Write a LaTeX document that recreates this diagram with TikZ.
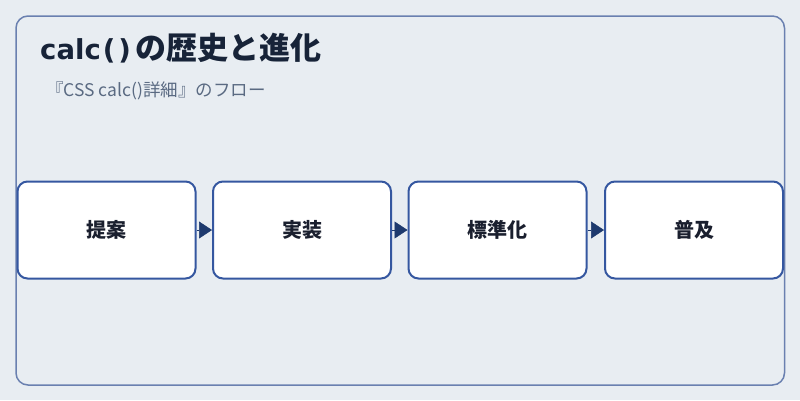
\documentclass[tikz,border=0pt]{standalone}
\usepackage{fontspec}
\setmainfont{Noto Sans CJK JP}
\newfontfamily\cjk{Noto Sans CJK JP}
\newfontfamily\latinbold{DejaVu Sans}
\usetikzlibrary{arrows.meta}
\definecolor{bg}{HTML}{E8EDF2}
\definecolor{frame}{HTML}{6A80B0}
\definecolor{boxline}{HTML}{3557A0}
\definecolor{arrowc}{HTML}{1E3A6E}
\definecolor{titlec}{HTML}{172338}
\definecolor{subc}{HTML}{5A6A82}
\definecolor{labelc}{HTML}{1A1F2E}
\tikzset{
  stepbox/.style={draw=boxline, line width=2pt, fill=white, rounded corners=10pt,
    minimum width=178pt, minimum height=97pt, inner sep=0pt,
    font=\cjk\bfseries\fontsize{20pt}{24pt}\selectfont, text=labelc},
  flow/.style={draw=arrowc, line width=0.5pt, -{Triangle[length=13pt,width=17pt]}, arrowc}
}
\begin{document}
\begin{tikzpicture}[x=1pt,y=-1pt]
\useasboundingbox (0,0) rectangle (800,400);
\fill[bg] (0,0) rectangle (800,400);
\draw[frame, line width=1.5pt, rounded corners=12pt] (16,16) rectangle (784.5,385);
\node[anchor=base west, text=titlec, font=\cjk\bfseries\fontsize{31pt}{36pt}\selectfont, inner sep=0pt] (title) at (40,59) {{\latinbold\bfseries\fontsize{27.5pt}{32pt}\selectfont calc\hspace{2pt}(\hspace{3pt})}\hspace{5pt}の歴史と進化};
\node[anchor=base west, text=subc, font=\cjk\fontsize{17.5pt}{21pt}\selectfont, inner sep=0pt] (sub) at (46,96) {『CSS calc()詳細』のフロー};
\node[stepbox] (a) at (106.5,230) {提案};
\node[stepbox] (b) at (302,230) {実装};
\node[stepbox] (c) at (497.5,230) {標準化};
\node[stepbox] (d) at (694,230) {普及};
\draw[flow] (a.east) -- (b.west);
\draw[flow] (b.east) -- (c.west);
\draw[flow] (c.east) -- (d.west);
\end{tikzpicture}
\end{document}
